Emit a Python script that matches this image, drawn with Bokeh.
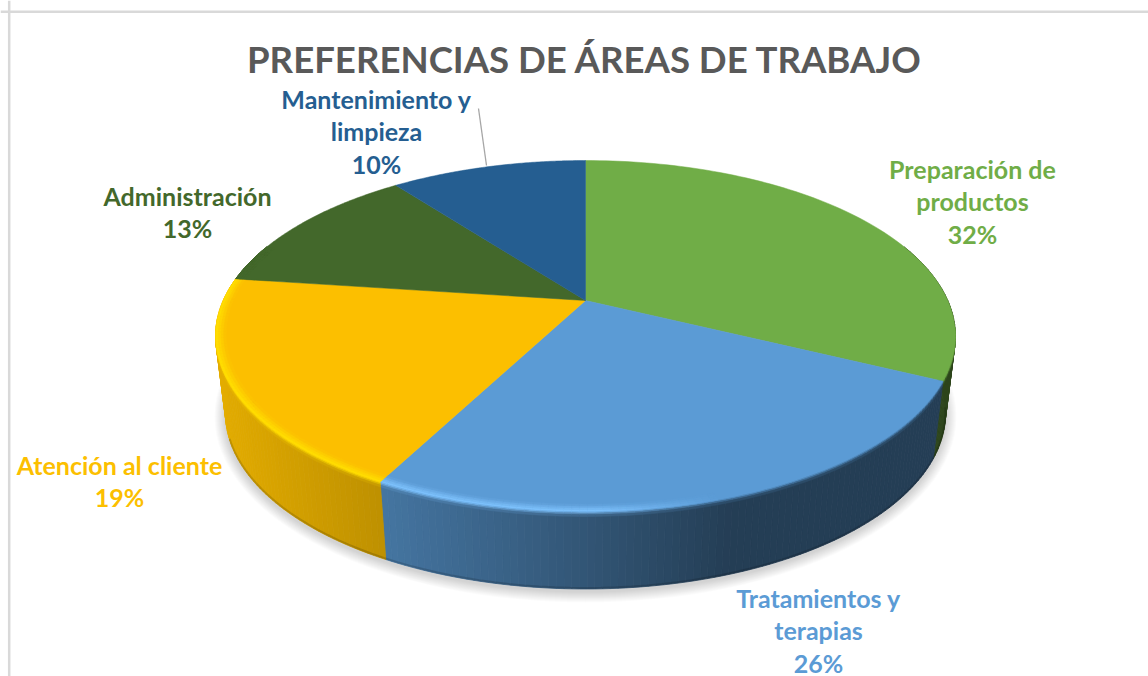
import numpy as np
from bokeh.plotting import figure
from bokeh.models import Range1d, Span
from bokeh.core.properties import value
from bokeh.embed import file_html
from bokeh.resources import INLINE

# ---------- data ----------
categories = ["Preparación de productos", "Tratamientos y terapias", "Atención al cliente",
              "Administración", "Mantenimiento y limpieza"]
shares = [32.2, 25.5, 19.4, 12.5, 10.4]
colors = ["#70AD47", "#5B9BD5", "#FCBF00", "#43682B", "#255E91"]
highlights = ["#70AD47", "#80C4FF", "#FFE000", "#43682B", "#255E91"]
title = "PREFERENCIAS DE ÁREAS DE TRABAJO"
label_lines = [["Preparación de", "productos", "32%"],
               ["Tratamientos y", "terapias", "26%"],
               ["Atención al cliente", "19%"],
               ["Administración", "13%"],
               ["Mantenimiento y", "limpieza", "10%"]]
label_x = [972, 818, 119, 187, 376]
label_y0 = [168, 597, 464, 195, 98]

# ---------- projection of the pie (screen pixels) ----------
CX, CY = 585.0, 300.0
K, A, B = 0.2023, 362.3, 168.3
WALL_H, WALL_SX = 77.5, 0.973


def rim(t, s=1.0):
    t = np.asarray(t, dtype=float)
    d = 1 + K * s * np.cos(t)
    return CX + A * s * np.sin(t) / d, CY - B * s * np.cos(t) / d


def low(t, h=WALL_H):
    x, y = rim(t)
    f = h / WALL_H
    return CX + (x - CX) * (1 - (1 - WALL_SX) * f), y + h


def rgb(c):
    return np.array([int(c[i:i + 2], 16) for i in (1, 3, 5)], dtype=float)


def hexc(v):
    return "#%02x%02x%02x" % tuple(int(round(min(255, max(0, q)))) for q in v)


def shade(x):
    return np.interp(x, [215, 385, 585, 730, 960], [0.90, 0.75, 0.55, 0.40, 0.40])


p = figure(width=1148, height=676, x_range=Range1d(0, 1148), y_range=Range1d(676, 0),
           toolbar_location=None, output_backend="svg", min_border=0, outline_line_color=None,
           background_fill_color="white", border_fill_color="white")
p.axis.visible = False
p.grid.visible = False

# frame
p.add_layout(Span(location=8.7, dimension="height", line_color="#D9D9D9", line_width=2.5))
p.add_layout(Span(location=11.2, dimension="width", line_color="#D9D9D9", line_width=2.5))

# soft shadow
for k in range(1, 12):
    p.ellipse(x=[585], y=[416], width=[720 + 2 * k], height=[350 + 2 * k],
              fill_color="black", fill_alpha=0.014, line_color=None)

# slice limits
edges = 2 * np.pi * np.cumsum([0] + shares) / sum(shares)

# wall and outer bevel
xs, ys, cs = [], [], []
bx, by, bc = [], [], []
ix, iy, ic = [], [], []
shift = [0, 1.5, 3, 5]
mixo = [0, 0.35, 0.7, 1.0]
sin_ = [0.972, 0.98, 0.987, 0.994, 1.0]
mixi = [0, 0.25, 0.55, 0.8, 1.0]
for i, col in enumerate(colors):
    t0, t1 = edges[i], edges[i + 1]
    lo, hi = max(t0, np.radians(70)), min(t1, np.radians(290))
    if hi <= lo:
        continue
    n = int(np.ceil(np.degrees(hi - lo)))
    ts = np.linspace(lo, hi, n + 1)
    base, hl = rgb(col), rgb(highlights[i])
    for a0, a1 in zip(ts[:-1], ts[1:]):
        mx, my = rim((a0 + a1) / 2)
        wall = base * shade(mx)
        w = np.interp(mx, [215, 600, 720], [1, 1, 0])
        peak = base + (hl - base) * w
        x0, y0 = rim(a0); x1, y1 = rim(a1)
        u0, v0 = low(a0); u1, v1 = low(a1)
        c = hexc(wall)
        xs.append([x0, x1, u1, u0]); ys.append([y0, y1, v1, v0]); cs.append(c)
        if np.degrees(a0) < 98:
            continue
        for j in range(3):
            m = (mixo[j] + mixo[j + 1]) / 2
            c = hexc(peak + (wall - peak) * m)
            ax0, ay0 = low(a0, shift[j]); ax1, ay1 = low(a1, shift[j])
            ex0, ey0 = low(a0, shift[j + 1]); ex1, ey1 = low(a1, shift[j + 1])
            bx.append([ax0, ax1, ex1, ex0]); by.append([ay0, ay1, ey1, ey0]); bc.append(c)
        if w > 0.01:
            for j in range(4):
                m = (mixi[j] + mixi[j + 1]) / 2
                c = hexc(base + (peak - base) * m)
                ax0, ay0 = rim(a0, sin_[j]); ax1, ay1 = rim(a1, sin_[j])
                ex0, ey0 = rim(a0, sin_[j + 1]); ex1, ey1 = rim(a1, sin_[j + 1])
                ix.append([ax0, ax1, ex1, ex0]); iy.append([ay0, ay1, ey1, ey0]); ic.append(c)

p.patches(xs, ys, fill_color=cs, line_color=cs, line_width=0.8)
p.patches(bx, by, fill_color=bc, line_color=bc, line_width=0.5)

# dark lower edge
te = np.radians(np.arange(100, 252, 2))
ex, ey = low(te)
p.line(ex, ey - 1, line_color="black", line_alpha=0.15, line_width=2)

# top surface
for i, col in enumerate(colors):
    ts = np.linspace(edges[i], edges[i + 1], 90)
    x, y = rim(ts)
    p.patch(np.r_[CX, x], np.r_[CY, y], fill_color=col, line_color=col, line_width=0.5)

if ix:
    p.patches(ix, iy, fill_color=ic, line_color=ic, line_width=0.4)

# leader line of the smallest slice
p.segment([478], [108], [486], [165], line_color="#A6A6A6", line_width=1.3)

# texts
p.text(x=[584.5], y=[58], text=[title], text_font=value("Lato"), text_font_style="bold",
       text_font_size="36.6px", text_color="#595959", text_align="center", text_baseline="middle")
LINE = 32.5
for lines, lx, ly, col in zip(label_lines, label_x, label_y0, colors):
    p.text(x=[lx] * len(lines), y=[ly + LINE * n for n in range(len(lines))], text=lines,
           text_font=value("Lato"), text_font_style="bold", text_font_size="25px",
           text_color=col, text_align="center", text_baseline="middle")

open("out.html", "w").write(file_html(p, INLINE))
